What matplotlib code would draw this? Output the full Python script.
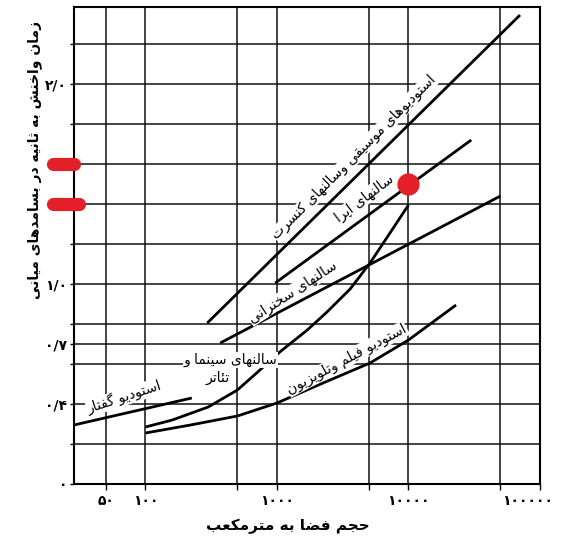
import matplotlib
matplotlib.use("Agg")
import matplotlib.pyplot as plt
from matplotlib.ticker import NullLocator, FixedLocator
from matplotlib.transforms import ScaledTranslation, blended_transform_factory

# ---------------- minimal Persian shaping (presentation forms) ----------------
FORMS = {
    '\u0627': ('\uFE8D', '\uFE8E', None, None),       # ا
    '\u0622': ('\uFE81', '\uFE82', None, None),       # آ
    '\u0628': ('\uFE8F', '\uFE90', '\uFE91', '\uFE92'),  # ب
    '\u067E': ('\uFB56', '\uFB57', '\uFB58', '\uFB59'),  # پ
    '\u062A': ('\uFE95', '\uFE96', '\uFE97', '\uFE98'),  # ت
    '\u062B': ('\uFE99', '\uFE9A', '\uFE9B', '\uFE9C'),  # ث
    '\u062C': ('\uFE9D', '\uFE9E', '\uFE9F', '\uFEA0'),  # ج
    '\u0686': ('\uFB7A', '\uFB7B', '\uFB7C', '\uFB7D'),  # چ
    '\u062D': ('\uFEA1', '\uFEA2', '\uFEA3', '\uFEA4'),  # ح
    '\u062E': ('\uFEA5', '\uFEA6', '\uFEA7', '\uFEA8'),  # خ
    '\u062F': ('\uFEA9', '\uFEAA', None, None),       # د
    '\u0630': ('\uFEAB', '\uFEAC', None, None),       # ذ
    '\u0631': ('\uFEAD', '\uFEAE', None, None),       # ر
    '\u0632': ('\uFEAF', '\uFEB0', None, None),       # ز
    '\u0698': ('\uFB8A', '\uFB8B', None, None),       # ژ
    '\u0633': ('\uFEB1', '\uFEB2', '\uFEB3', '\uFEB4'),  # س
    '\u0634': ('\uFEB5', '\uFEB6', '\uFEB7', '\uFEB8'),  # ش
    '\u0635': ('\uFEB9', '\uFEBA', '\uFEBB', '\uFEBC'),  # ص
    '\u0636': ('\uFEBD', '\uFEBE', '\uFEBF', '\uFEC0'),  # ض
    '\u0637': ('\uFEC1', '\uFEC2', '\uFEC3', '\uFEC4'),  # ط
    '\u0638': ('\uFEC5', '\uFEC6', '\uFEC7', '\uFEC8'),  # ظ
    '\u0639': ('\uFEC9', '\uFECA', '\uFECB', '\uFECC'),  # ع
    '\u063A': ('\uFECD', '\uFECE', '\uFECF', '\uFED0'),  # غ
    '\u0641': ('\uFED1', '\uFED2', '\uFED3', '\uFED4'),  # ف
    '\u0642': ('\uFED5', '\uFED6', '\uFED7', '\uFED8'),  # ق
    '\u06A9': ('\uFB8E', '\uFB8F', '\uFB90', '\uFB91'),  # ک
    '\u06AF': ('\uFB92', '\uFB93', '\uFB94', '\uFB95'),  # گ
    '\u0644': ('\uFEDD', '\uFEDE', '\uFEDF', '\uFEE0'),  # ل
    '\u0645': ('\uFEE1', '\uFEE2', '\uFEE3', '\uFEE4'),  # م
    '\u0646': ('\uFEE5', '\uFEE6', '\uFEE7', '\uFEE8'),  # ن
    '\u0648': ('\uFEED', '\uFEEE', None, None),       # و
    '\u0647': ('\uFEE9', '\uFEEA', '\uFEEB', '\uFEEC'),  # ه
    '\u06CC': ('\uFBFC', '\uFBFD', '\uFBFE', '\uFBFF'),  # ی
    '\u0626': ('\uFE89', '\uFE8A', '\uFE8B', '\uFE8C'),  # ئ
}


def fa(s):
    out = []
    n = len(s)
    for i, c in enumerate(s):
        if c not in FORMS:
            out.append(c)
            continue
        prev = s[i - 1] if i > 0 else None
        nxt = s[i + 1] if i + 1 < n else None
        jp = prev in FORMS and FORMS[prev][2] is not None
        jn = nxt in FORMS and FORMS[c][2] is not None
        iso, fin, ini, med = FORMS[c]
        if jp and jn:
            g = med
        elif jp:
            g = fin
        elif jn:
            g = ini
        else:
            g = iso
        out.append(g)
    return ''.join(reversed(out))


# ---------------- data ----------------
concert_x = [295, 70500]
concert_y = [0.805, 2.345]

opera_x = [970, 30000]
opera_y = [1.005, 1.72]

lecture_x = [370, 50000]
lecture_y = [0.705, 1.44]

cinema_x = [100, 160, 300, 500, 700, 1050, 1700, 2400, 3600, 5100, 6900, 10000]
cinema_y = [0.285, 0.32, 0.385, 0.47, 0.555, 0.66, 0.77, 0.86, 0.975, 1.105, 1.235, 1.395]

film_x = [100, 220, 500, 1000, 2240, 5100, 10000, 23000]
film_y = [0.255, 0.295, 0.34, 0.405, 0.505, 0.605, 0.72, 0.895]

speech_x = [28.6, 225]
speech_y = [0.295, 0.43]

x_grid = [50, 100, 500, 1000, 5000, 10000, 50000, 100000]
x_labels = ['۵۰', '۱۰۰', '', '۱۰۰۰', '', '۱۰۰۰۰', '', '۱۰۰۰۰۰']
y_grid = [0, 0.2, 0.4, 0.6, 0.7, 0.8, 1.0, 1.2, 1.4, 1.6, 1.8, 2.0, 2.2]
y_labels = ['۰', '', '۰/۴', '', '۰/۷', '', '۱/۰', '', '', '', '', '۲/۰', '']

highlight_y = [1.6, 1.4]
highlight_point_x = [10000]
highlight_point_y = [1.5]

lbl_concert = 'استودیوهای موسیقی وسالنهای کنسرت'
lbl_opera = 'سالنهای اپرا'
lbl_lecture = 'سالنهای سخنرانی'
lbl_cinema1 = 'سالنهای سینما و'
lbl_cinema2 = 'تئاتر'
lbl_film = 'استودیو فیلم وتلویزیون'
lbl_speech = 'استودیو گفتار'
x_title = 'حجم فضا به مترمکعب'
y_title = 'زمان واخنش به ثانیه در بسامدهای میانی'

# ---------------- figure ----------------
plt.rcParams['font.family'] = ['DejaVu Sans']
W, H = 567, 539
fig = plt.figure(figsize=(W / 100, H / 100), dpi=100)
ax = fig.add_axes([74 / W, 1 - 484 / H, (540 - 74) / W, (484 - 7) / H])
ax.set_xscale('log')
ax.set_xlim(28.6, 100000)
ax.set_ylim(0, 2.385)

ax.xaxis.set_major_locator(FixedLocator(x_grid))
ax.xaxis.set_minor_locator(NullLocator())
ax.set_xticks(x_grid)
ax.set_xticklabels(x_labels, fontsize=10, fontweight='bold')
ax.set_yticks(y_grid)
ax.set_yticklabels(y_labels, fontsize=10, fontweight='bold')
ax.tick_params(axis='both', direction='out', length=4, width=1.0, color='black', pad=3)
ax.tick_params(axis='y', length=3, pad=2)
last = ax.get_xticklabels()[-1]
last.set_transform(last.get_transform() + ScaledTranslation(-0.12, 0, fig.dpi_scale_trans))

ax.grid(True, color='#111111', linewidth=1.1)
ax.set_axisbelow(True)
for sp in ax.spines.values():
    sp.set_linewidth(1.5)
    sp.set_color('black')

lw = 2.0
for xs, ys in [(concert_x, concert_y), (opera_x, opera_y), (lecture_x, lecture_y),
               (cinema_x, cinema_y), (film_x, film_y), (speech_x, speech_y)]:
    ax.plot(xs, ys, color='black', linewidth=lw, solid_capstyle='butt',
            solid_joinstyle='round', zorder=3)

box = dict(facecolor='white', edgecolor='none', pad=0.5)
fs = 10
ax.text(3850, 1.635, fa(lbl_concert), rotation=45, ha='center', va='center',
        fontsize=fs, rotation_mode='anchor', bbox=box, zorder=4)
ax.text(4600, 1.43, fa(lbl_opera), rotation=37, ha='center', va='center',
        fontsize=fs, rotation_mode='anchor', bbox=box, zorder=4)
ax.text(1320, 0.96, fa(lbl_lecture), rotation=33, ha='center', va='center',
        fontsize=fs, rotation_mode='anchor', bbox=box, zorder=4)
ax.text(440, 0.62, fa(lbl_cinema1), rotation=0, ha='center', va='center',
        fontsize=fs, bbox=box, zorder=4)
ax.text(356, 0.53, fa(lbl_cinema2), rotation=0, ha='center', va='center',
        fontsize=fs, bbox=box, zorder=4)
ax.text(3400, 0.625, fa(lbl_film), rotation=28, ha='center', va='center',
        fontsize=fs, rotation_mode='anchor', bbox=box, zorder=4)
ax.text(69, 0.435, fa(lbl_speech), rotation=18, ha='center', va='center',
        fontsize=fs, rotation_mode='anchor', bbox=box, zorder=4)

# axis titles
fig.text(288 / W, 1 - 526 / H, fa(x_title), ha='center', va='center',
         fontsize=11, fontweight='bold')
fig.text(35 / W, 1 - 160 / H, fa(y_title), ha='center', va='center',
         rotation=90, fontsize=10, fontweight='bold')

# red highlight marks
red = '#e3202a'
trans = blended_transform_factory(ax.transAxes, ax.transData)
for yv, x1 in zip(highlight_y, [0.0, 0.010]):
    ax.plot([-0.046, x1], [yv, yv], color=red, linewidth=9.5, solid_capstyle='round',
            transform=trans, clip_on=False, zorder=6)
ax.plot(highlight_point_x, highlight_point_y, 'o', color=red, markersize=16,
        markeredgewidth=0, zorder=6)

fig.savefig('out.png', dpi=100)
